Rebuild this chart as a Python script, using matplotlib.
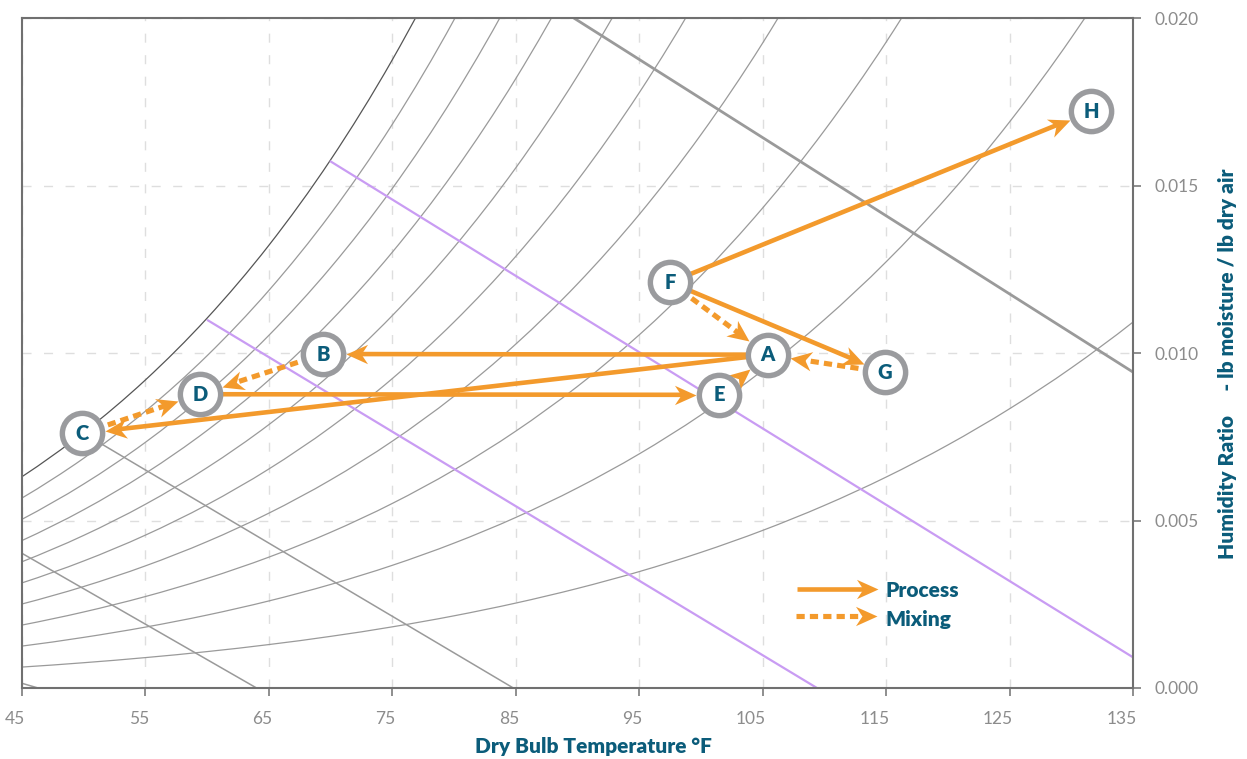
import numpy as np
import matplotlib
matplotlib.use('Agg')
import matplotlib.pyplot as plt
from matplotlib.path import Path
from matplotlib.patches import PathPatch
from matplotlib.markers import MarkerStyle
from matplotlib.transforms import Affine2D, ScaledTranslation

plt.rcParams['font.family'] = ['Lato', 'DejaVu Sans']

#saturation pressure of water vapour (psia) at dry bulb temps (F)
sat_temps = [40, 45, 50, 55, 60, 65, 70, 75, 80, 85, 90, 95, 100,
             105, 110, 115, 120, 125, 130, 135, 140]
sat_press = [0.12173, 0.14756, 0.17812, 0.21413, 0.25638, 0.30578, 0.36334,
             0.43016, 0.50745, 0.59659, 0.69904, 0.81643, 0.95052, 1.10322,
             1.27659, 1.47284, 1.69434, 1.94363, 2.22343, 2.53661, 2.88622]
rh_levels = [1.0, 0.9, 0.8, 0.7, 0.6, 0.5, 0.4, 0.3, 0.2, 0.1]
P_ATM = 14.696

#constant wet bulb lines, (temp, W) start and end
wb_gray = [((89.7, 0.0200), (135.0, 0.00943)),
           ((50.0, 0.0076), (84.8, 0.0)),
           ((45.0, 0.00402), (64.0, 0.0)),
           ((45.0, 0.00014), (46.3, 0.0))]
wb_gray_width = [2.0, 1.1, 1.1, 1.1]
wb_purple = [((69.95, 0.01573), (135.0, 0.000916)),
             ((59.99, 0.01099), (109.4, 0.0))]

#state points
point_names = ['A', 'B', 'C', 'D', 'E', 'F', 'G', 'H']
point_temp = [105.4, 69.4, 49.9, 59.4, 101.5, 97.5, 114.9, 131.6]
point_w = [0.00995, 0.00997, 0.0076, 0.00877, 0.00875, 0.01211, 0.00942, 0.01722]

process_arrows = [('A', 'B'), ('A', 'C'), ('D', 'E'), ('F', 'H'), ('F', 'G')]
mixing_arrows = [('B', 'D'), ('C', 'D'), ('F', 'A'), ('E', 'A'), ('G', 'A')]

x_ticks = [45, 55, 65, 75, 85, 95, 105, 115, 125, 135]
y_ticks = [0.000, 0.005, 0.010, 0.015, 0.020]

ORANGE = '#f39a2c'
TEAL = '#0b5c7a'
RING = '#9a9b9e'
PURPLE = '#c99cf3'
CURVE = '#9a9a9a'
SPINE = '#707070'

fig = plt.figure(figsize=(12.47, 7.59), dpi=100)
ax = fig.add_axes([22/1247, 71/759, 1111/1247, 670/759])
ax.set_xlim(45, 135)
ax.set_ylim(0, 0.020)


def smooth_path(xs, ys):
    # catmull-rom through the points, drawn as cubic beziers
    pts = np.column_stack([xs, ys])
    ext = np.vstack([pts[0], pts, pts[-1]])
    verts = [pts[0]]
    codes = [Path.MOVETO]
    for i in range(1, len(ext) - 2):
        p0, p1, p2, p3 = ext[i - 1], ext[i], ext[i + 1], ext[i + 2]
        verts += [p1 + (p2 - p0) / 6, p2 - (p3 - p1) / 6, p2]
        codes += [Path.CURVE4] * 3
    return Path(verts, codes)


#rh curves
pws = np.array(sat_press)
for rh in rh_levels:
    pw = rh * pws
    w = 0.621945 * pw / (P_ATM - pw)
    col = '#555555' if rh == 1.0 else CURVE
    patch = PathPatch(smooth_path(sat_temps, w), fill=False, edgecolor=col,
                      lw=0.9, zorder=2)
    ax.add_patch(patch)

for (s, e), lw in zip(wb_gray, wb_gray_width):
    ax.plot([s[0], e[0]], [s[1], e[1]], color=CURVE, lw=lw, zorder=2,
            solid_capstyle='butt')
for s, e in wb_purple:
    ax.plot([s[0], e[0]], [s[1], e[1]], color=PURPLE, lw=1.6, zorder=2,
            solid_capstyle='butt')

#arrows
HEAD_MS = 31.0
HEAD_PX = HEAD_MS / 2 * 100 / 72
CIRCLE_PX = 23.0
head_path = Path([(0, 0), (-1, 0.45), (-0.7, 0), (-1, -0.45), (0, 0)],
                 [Path.MOVETO, Path.LINETO, Path.LINETO, Path.LINETO, Path.CLOSEPOLY])


def draw_arrow(p0, p1, dashed, shrink, trans):
    a = trans.transform(p0)
    b = trans.transform(p1)
    d = b - a
    u = d / np.hypot(*d)
    tip = b - u * shrink
    line_end = tip - u * HEAD_PX * 0.6
    ang = np.degrees(np.arctan2(u[1], u[0]))
    inv = trans.inverted()
    pts = inv.transform(np.array([a, line_end]))
    if dashed:
        ax.plot(pts[:, 0], pts[:, 1], color=ORANGE, lw=3.7, dashes=(1.6, 1.0),
                dash_capstyle='butt', transform=trans, zorder=4)
    else:
        ax.plot(pts[:, 0], pts[:, 1], color=ORANGE, lw=3.3,
                solid_capstyle='butt', transform=trans, zorder=4)
    t = inv.transform(tip)
    m = MarkerStyle(head_path, transform=Affine2D().rotate_deg(ang))
    ax.plot([t[0]], [t[1]], marker=m, ms=HEAD_MS, color=ORANGE, mew=0,
            ls='none', transform=trans, zorder=4)


pos = {n: (t, w) for n, t, w in zip(point_names, point_temp, point_w)}
for a, b in process_arrows:
    draw_arrow(pos[a], pos[b], False, CIRCLE_PX, ax.transData)
for a, b in mixing_arrows:
    draw_arrow(pos[a], pos[b], True, CIRCLE_PX, ax.transData)

ax.plot(point_temp, point_w, 'o', ms=29, mfc='white', mec=RING, mew=3.9,
        ls='none', zorder=5)
for n, t, w in zip(point_names, point_temp, point_w):
    ax.text(t, w, n, ha='center', va='center', fontsize=14.5, fontweight='heavy',
            color=TEAL, zorder=6)

#legend
draw_arrow((0.6976, 0.148), (0.7705, 0.148), False, 0, ax.transAxes)
draw_arrow((0.6967, 0.1075), (0.7696, 0.1075), True, 0, ax.transAxes)
ax.text(0.7768, 0.146, 'Process', transform=ax.transAxes, ha='left',
        va='center', fontsize=15, fontweight='heavy', color=TEAL)
ax.text(0.7768, 0.1025, 'Mixing', transform=ax.transAxes, ha='left',
        va='center', fontsize=15, fontweight='heavy', color=TEAL)

#axes styling
ax.set_xticks(x_ticks)
ax.set_yticks(y_ticks)
ax.yaxis.tick_right()
ax.set_yticklabels(['%.3f' % v for v in y_ticks])
ax.grid(True, color='#dedede', lw=1.0, dashes=(6.5, 9.0), zorder=0)
ax.set_axisbelow(True)
for sp in ax.spines.values():
    sp.set_color(SPINE)
    sp.set_linewidth(1.5)
ax.tick_params(axis='x', direction='out', length=5.8, width=1.1, color=SPINE,
               labelsize=12.5, labelcolor='#8c8c8c', pad=11)
ax.tick_params(axis='y', direction='out', length=5.8, width=1.1, color=SPINE,
               labelsize=12.5, labelcolor='#8c8c8c', pad=10, left=False, right=True)
offset = ScaledTranslation(0.035, 0, fig.dpi_scale_trans)
for lab in ax.get_xticklabels():
    lab.set_ha('right')
    lab.set_transform(lab.get_transform() + offset)

ax.text(0.514, -0.088, 'Dry Bulb Temperature °F', transform=ax.transAxes,
        ha='center', va='center', fontsize=15, fontweight='heavy', color=TEAL)
ax.text(1.0855, 0.4836, 'Humidity Ratio     - lb moisture / lb dry air',
        transform=ax.transAxes, rotation=90, ha='center', va='center',
        fontsize=15, fontweight='heavy', color=TEAL)

fig.savefig('out.png', dpi=100)
